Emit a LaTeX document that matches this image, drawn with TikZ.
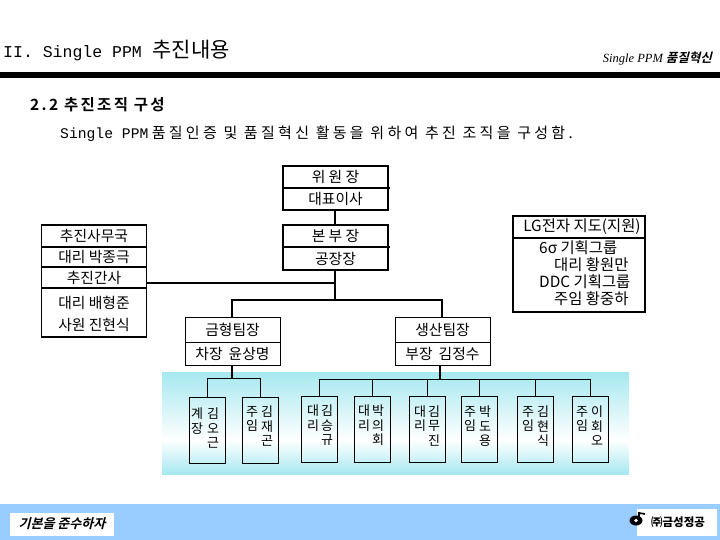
\documentclass[tikz,border=0pt]{standalone}
\usepackage{fontspec}
\setmainfont{Noto Sans CJK KR}
\newfontfamily\monofam{Liberation Mono}
\newfontfamily\serifit{Liberation Serif Italic}
\newfontfamily\krslant[FakeSlant=0.25]{Noto Sans CJK KR Bold}
\newfontfamily\krwide[LetterSpace=22]{Noto Sans CJK KR}
\newfontfamily\krbold[LetterSpace=15]{Noto Sans CJK KR Bold}
\usetikzlibrary{calc}
\definecolor{footblue}{HTML}{99CCFF}
\definecolor{bandcyan}{HTML}{A6E8F0}
\tikzset{
  heavybox/.style={draw,line width=1.7pt,minimum width=105pt,inner sep=0pt,font=\fontsize{14.8}{16}\selectfont},
  teambox/.style={draw,line width=0.8pt,minimum width=95pt,inner sep=0pt,font=\fontsize{14.8}{16}\selectfont},
  memberbox/.style={draw,line width=0.8pt,minimum width=36pt,minimum height=66pt,inner sep=0pt},
  membertext/.style={anchor=north,align=center,inner sep=0pt,font=\fontsize{13}{14.5}\selectfont},
  lgtext/.style={anchor=west,inner sep=0pt,font=\fontsize{15.4}{17}\selectfont},
  stafftext/.style={inner sep=0pt,font=\fontsize{14.8}{16}\selectfont},
  heavyline/.style={line width=1.8pt},
  thinline/.style={line width=0.8pt},
}
\begin{document}
\begin{tikzpicture}[x=1pt,y=-1pt]
\useasboundingbox (0,0) rectangle (720,540);
% header
\node[anchor=west,inner sep=0pt,font=\fontsize{21}{23}\selectfont] (title) at (3,51) {{\fontsize{16.5}{18}\selectfont\monofam II. Single PPM}\hspace{6pt} 추진내용};
\node[anchor=east,inner sep=0pt,font=\fontsize{12.5}{14}\selectfont] (headright) at (712,59) {{\serifit Single PPM} {\krslant 품질혁신}};
\fill (0,72) rectangle (720,78);
\node[anchor=west,inner sep=0pt,font=\fontsize{15.5}{17}\selectfont] (subhead) at (30,105) {{\krbold 2.2 추진조직 구성}};
\node[anchor=west,inner sep=0pt,font=\fontsize{15}{17}\selectfont] (intro) at (60,134) {{\fontsize{14.7}{17}\selectfont\monofam Single PPM} {\krwide 품질인증 및 품질혁신 활동을 위하여 추진 조직을 구성함.}};
% band and footer
\fill[top color=bandcyan,bottom color=white] (162,372) rectangle (629,440);
\fill[top color=white,bottom color=bandcyan] (162,440) rectangle (629,474);
\fill[footblue] (0,504) rectangle (720,540);
\node[fill=white,minimum width=104pt,minimum height=23pt,inner sep=0pt,font=\fontsize{13}{15}\selectfont] (motto) at (62,524) {{\krslant 기본을 준수하자}};
\node[fill=white,minimum width=80pt,minimum height=27pt,inner sep=0pt] (firm) at (677,522) {};
\node[inner sep=0pt,font=\fontsize{11.5}{13}\bfseries\selectfont] (firmname) at (678,522) {㈜금성정공};
\fill (636,520.5) ellipse (6.5pt and 5pt);
\fill[white] (636,520.5) circle (1.8pt);
\draw[line width=2.6pt] (639,512) -- (639,519);
\draw[line width=1.6pt] (639,513) -- (645,514);
% upper boxes
\node[heavybox,minimum height=22pt] (chair) at (335.5,177) {위 원 장};
\node[heavybox,minimum height=22pt] (ceo) at (335.5,199) {대표이사};
\node[heavybox,minimum height=22pt] (head) at (335.5,236) {본 부 장};
\node[heavybox,minimum height=23pt] (plant) at (335.5,258.5) {공장장};
\node[heavybox,minimum height=22pt] (office) at (94,236) {추진사무국};
\node[heavybox,minimum height=20pt] (officea) at (94,257) {대리 박종극};
\node[heavybox,minimum height=21pt] (sec) at (94,277.5) {추진간사};
\node[heavybox,minimum height=49pt] (staff) at (94,312.5) {};
\node[stafftext] (staffa) at (94,303) {대리 배형준};
\node[stafftext] (staffb) at (94,325) {사원 진현식};
\node[heavybox,minimum width=132pt,minimum height=22pt,font=\fontsize{15.4}{17}\selectfont] (lg) at (579,227) {\hspace{6pt}LG전자 지도(지원)};
\node[heavybox,minimum width=132pt,minimum height=74pt] (lgbody) at (579,275) {};
\node[lgtext] (lga) at (539,248) {6σ 기획그룹};
\node[lgtext] (lgb) at (554,265) {대리 황원만};
\node[lgtext] (lgc) at (539,282) {DDC 기획그룹};
\node[lgtext] (lgd) at (554,299) {주임 황중하};
% teams
\node[teambox,minimum height=25pt] (mold) at (232.5,329.5) {금형팀장};
\node[teambox,minimum height=23pt] (molda) at (232.5,353.5) {차장\hspace{6pt}윤상명};
\node[teambox,minimum height=25pt] (prod) at (442.5,329.5) {생산팀장};
\node[teambox,minimum height=23pt] (proda) at (442.5,353.5) {부장\hspace{6pt}김정수};
% connectors
\coordinate (upperbus) at (335,300);
\coordinate (sectap) at (335,283);
\coordinate (moldbus) at (232,378);
\coordinate (prodbus) at (440,379);
\coordinate (prodtop) at (442,317);
\draw[heavyline] (ceo.south -| upperbus) -- (head.north -| upperbus);
\draw[heavyline] (plant.south -| upperbus) -- (upperbus);
\draw[heavyline] (sec.east |- sectap) -- (sectap);
\draw[heavyline] (upperbus) -| (mold.north -| moldbus);
\draw[heavyline] (upperbus) -| (prodtop);
\draw[heavyline] (molda.south -| moldbus) -- (moldbus);
\draw[heavyline] (proda.south -| prodbus) -- (prodbus);
% members
\foreach \nm/\xc/\yc/\dl/\dr/\lt/\rt/\ty in {
  a/207/430/-10/6/계\\장/김\\오\\근/408,
  b/260/430/-8/7/주\\임/김\\재\\곤/406,
  c/319/429/-6/8/대\\리/김\\승\\규/405,
  d/372/429/-8/6/대\\리/박\\의\\회/405,
  e/427/429/-7/7/대\\리/김\\무\\진/405.5,
  f/479/429/-9/6/주\\임/박\\도\\용/406,
  g/535/429/-7/8/주\\임/김\\현\\식/406,
  h/590/429/-8/7/주\\임/이\\회\\오/406}{
  \node[memberbox] (m\nm) at (\xc,\yc) {};
  \node[membertext] (m\nm l) at (\xc+\dl,\ty) {\lt};
  \node[membertext] (m\nm r) at (\xc+\dr,\ty) {\rt};
}
\draw[thinline] (moldbus) -| (ma.north);
\draw[thinline] (moldbus) -| (mb.north);
\foreach \nm in {c,d,e,f,g,h}{\draw[thinline] (prodbus) -| (m\nm.north);}
\draw[heavyline] (388,188) -- (390,188);
\draw[heavyline] (388,247) -- (390,247);
\end{tikzpicture}
\end{document}
